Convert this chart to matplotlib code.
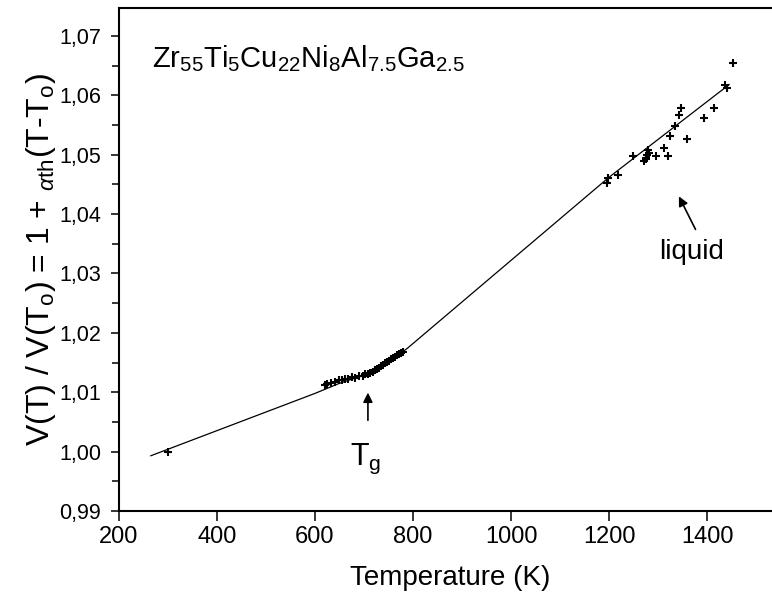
import numpy as np
import matplotlib
matplotlib.use("Agg")
import matplotlib.pyplot as plt
from matplotlib.ticker import MultipleLocator, FuncFormatter

plt.rcParams["font.family"] = ["Liberation Sans", "DejaVu Sans"]
plt.rcParams["mathtext.fontset"] = "custom"
plt.rcParams["mathtext.rm"] = "Liberation Sans"
plt.rcParams["mathtext.it"] = "Liberation Sans:italic"

# fitted curve
fit_T = [265, 600, 650, 700, 730, 760, 790, 830, 900, 1000, 1200, 1445]
fit_V = [0.9993, 1.0098, 1.0115, 1.0129, 1.0141, 1.0156, 1.0175, 1.0203,
         1.0252, 1.0322, 1.0462, 1.0618]

# measured points, glass + Tg region
glass_T = [300, 620, 625, 632, 640, 650, 655, 662, 668, 675, 682, 690, 697,
           703, 708, 713, 718, 722, 727, 731, 735, 739, 743, 747, 751, 755,
           759, 763, 767, 771, 775, 780]
glass_V = [1.0000, 1.0112, 1.0114, 1.0115, 1.0117, 1.0121, 1.0120, 1.0123,
           1.0122, 1.0125, 1.0124, 1.0127, 1.0128, 1.0130, 1.0131, 1.0133,
           1.0134, 1.0137, 1.0139, 1.0141, 1.0144, 1.0146, 1.0149, 1.0151,
           1.0153, 1.0156, 1.0158, 1.0160, 1.0162, 1.0165, 1.0166, 1.0168]

# measured points, liquid
liq_T = [1195, 1197, 1219, 1248, 1272, 1275, 1276, 1278, 1280, 1282, 1296,
         1312, 1321, 1324, 1335, 1342, 1346, 1360, 1394, 1414, 1437, 1440, 1452]
liq_V = [1.0452, 1.0460, 1.0466, 1.0498, 1.0490, 1.0495, 1.0492, 1.0500,
         1.0508, 1.0503, 1.0498, 1.0512, 1.0497, 1.0531, 1.0548, 1.0567,
         1.0579, 1.0527, 1.0561, 1.0579, 1.0617, 1.0612, 1.0654]

x_ticks = [200, 400, 600, 800, 1000, 1200, 1400]
y_ticks = [0.99, 1.00, 1.01, 1.02, 1.03, 1.04, 1.05, 1.06, 1.07]

fig = plt.figure(figsize=(7.72, 6.06), dpi=100)
ax = fig.add_axes([0.1541, 0.1568, 0.857, 0.830])

ax.plot(fit_T, fit_V, color="black", lw=0.9)
ax.plot(glass_T, glass_V, "+", color="black", ms=6, mew=1.5)
ax.plot(liq_T, liq_V, "+", color="black", ms=6, mew=1.5)

ax.set_xlim(200, 1550)
ax.set_ylim(0.99, 1.0747)
ax.set_xticks(x_ticks)
ax.set_yticks(y_ticks)
ax.yaxis.set_minor_locator(MultipleLocator(0.005))
ax.yaxis.set_major_formatter(FuncFormatter(lambda v, p: f"{v:.2f}".replace(".", ",")))

ax.tick_params(axis="y", which="major", direction="out", length=6, width=1.1,
               labelsize=15.5, pad=7)
ax.tick_params(axis="y", which="minor", direction="out", length=5, width=1.1)
ax.tick_params(axis="x", which="major", direction="out", length=7, width=1.1,
               labelsize=17, pad=4)
for s in ["left", "bottom", "top"]:
    ax.spines[s].set_linewidth(1.5)
ax.spines["right"].set_visible(False)

ax.set_xlabel("Temperature (K)", fontsize=20, labelpad=12)
ax.set_ylabel(r"V(T) / V(T$_\mathrm{o}$) = 1 + $_{\alpha\mathrm{th}}$(T-T$_\mathrm{o}$)",
              fontsize=23, labelpad=1)

ax.text(267, 1.0647, r"Zr$_{55}$Ti$_5$Cu$_{22}$Ni$_8$Al$_{7.5}$Ga$_{2.5}$",
        fontsize=21, ha="left", va="baseline")

ax.annotate("", xy=(708, 1.0104), xytext=(708, 1.0048),
            arrowprops=dict(arrowstyle="-|>", color="black", lw=1.2,
                            mutation_scale=14))
ax.text(671, 0.9978, r"T$_\mathrm{g}$", fontsize=22, ha="left", va="baseline")

ax.annotate("", xy=(1340, 1.0434), xytext=(1379, 1.0370),
            arrowprops=dict(arrowstyle="-|>", color="black", lw=1.2,
                            mutation_scale=14))
ax.text(1302, 1.0324, "liquid", fontsize=20, ha="left", va="baseline")

fig.savefig("out.png", dpi=100)
